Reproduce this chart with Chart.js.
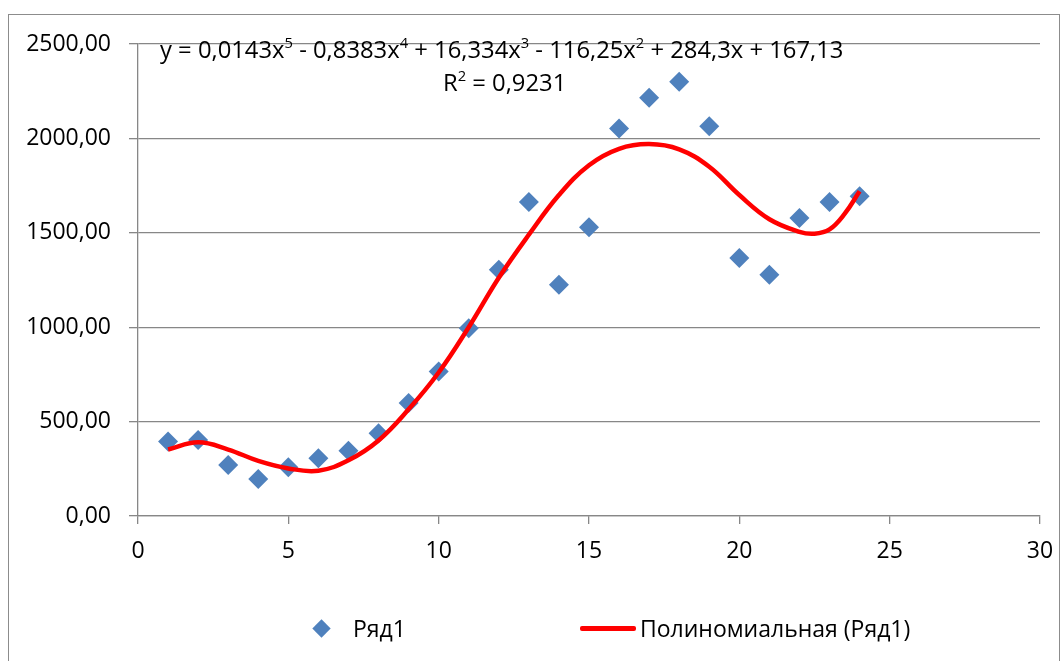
<!DOCTYPE html>
<html>
<head>
<meta charset="utf-8">
<script src="https://cdn.jsdelivr.net/npm/chart.js@4.4.0/dist/chart.umd.min.js"></script>
<style>
    body { margin: 0; background: #fff; }
    #wrap { position: relative; width: 1061px; height: 661px; overflow: hidden; font-family: 'Open Sans', sans-serif; color: #000; }
    #frame { position: absolute; left: 8px; top: 14px; width: 1052px; height: 700px; border: 1.5px solid #8c8c8c; box-sizing: border-box; }
    #chart { position: absolute; left: 0; top: 0; }
    .txt { position: absolute; white-space: nowrap; font-size: 23px; line-height: 1; }
    .txt sup { font-size: 0.62em; position: relative; top: -0.2em; vertical-align: top; }
    .diamond { position: absolute; width: 13px; height: 13px; background: #4F81BD; transform: rotate(45deg); }
    .redline { position: absolute; height: 5px; background: #ff0000; border-radius: 2px; }
</style>
</head>
<body>
<div id="wrap">
    <div id="frame"></div>
    <canvas id="chart" width="1061" height="661"></canvas>
    <div class="txt" style="left:160px; top:38px; font-size:23.8px;">y = 0,0143x<sup>5</sup> - 0,8383x<sup>4</sup> + 16,334x<sup>3</sup> - 116,25x<sup>2</sup> + 284,3x + 167,13</div>
    <div class="txt" style="left:443px; top:71px; font-size:23.8px;">R<sup>2</sup> = 0,9231</div>
    <div class="diamond" style="left:315px; top:622px;"></div>
    <div class="txt" style="left:353px; top:617px;">Ряд1</div>
    <div class="redline" style="left:580px; top:626px; width:56px;"></div>
    <div class="txt" style="left:640px; top:617px;">Полиномиальная (Ряд1)</div>
</div>
<script>
// observed points (Ряд1)
const xValues = [1, 2, 3, 4, 5, 6, 7, 8, 9, 10, 11, 12, 13, 14, 15, 16, 17, 18, 19, 20, 21, 22, 23, 24];
const series1 = [394, 403, 270, 196, 258, 306, 346, 438, 598, 765, 995, 1304, 1663, 1225, 1529, 2052, 2215, 2300, 2064, 1366, 1278, 1579, 1663, 1693];

// trend curve
const trendX = [1, 2, 3, 4, 5, 6, 7, 8, 9, 10, 11, 12, 13, 14, 15, 16, 17, 18, 19, 20, 21, 22, 22.5, 23, 23.5, 24];
const trendY = [352, 390, 352, 292, 252, 240, 295, 400, 565, 760, 1000, 1262, 1490, 1700, 1858, 1945, 1970, 1942, 1850, 1700, 1572, 1505, 1495, 1518, 1600, 1720];

const yTicks = [0, 500, 1000, 1500, 2000, 2500];
const xTicks = [0, 5, 10, 15, 20, 25, 30];

const gridGray = '#878787';

Chart.defaults.font.family = "'Open Sans', sans-serif";
Chart.defaults.font.size = 23;
Chart.defaults.color = '#000';

new Chart(document.getElementById('chart'), {
    type: 'scatter',
    data: {
        datasets: [{
            label: 'Полиномиальная (Ряд1)',
            data: trendX.map((x, i) => ({ x: x, y: trendY[i] })),
            showLine: true,
            borderColor: '#ff0000',
            borderWidth: 4.5,
            pointRadius: 0,
            tension: 0.4,
            fill: false
        }, {
            label: 'Ряд1',
            data: xValues.map((x, i) => ({ x: x, y: series1[i] })),
            pointStyle: 'rectRot',
            pointRadius: 10,
            backgroundColor: '#4F81BD',
            borderColor: '#4F81BD',
            borderWidth: 0
        }]
    },
    options: {
        responsive: false,
        animation: false,
        layout: { padding: { left: 0, top: 44, right: 21, bottom: 0 } },
        plugins: {
            legend: { display: false },
            tooltip: { enabled: false }
        },
        scales: {
            x: {
                type: 'linear',
                min: 0,
                max: 30,
                afterBuildTicks: s => { s.ticks = xTicks.map(v => ({ value: v })); },
                afterFit: s => { s.height = 145; s.paddingLeft = 0; s.paddingRight = 0; },
                grid: { drawOnChartArea: false, drawTicks: true, tickLength: 8, color: gridGray, lineWidth: 1.3 },
                border: { color: gridGray, width: 1.3 },
                ticks: { padding: 14 }
            },
            y: {
                min: 0,
                max: 2500,
                afterBuildTicks: s => { s.ticks = yTicks.map(v => ({ value: v })); },
                afterFit: s => { s.width = 138; s.paddingTop = 0; s.paddingBottom = 0; },
                grid: { color: gridGray, lineWidth: 1.3, tickLength: 9 },
                border: { color: gridGray, width: 1.3 },
                ticks: {
                    padding: 18,
                    callback: v => v.toFixed(2).replace('.', ',')
                }
            }
        }
    }
});
</script>
</body>
</html>
